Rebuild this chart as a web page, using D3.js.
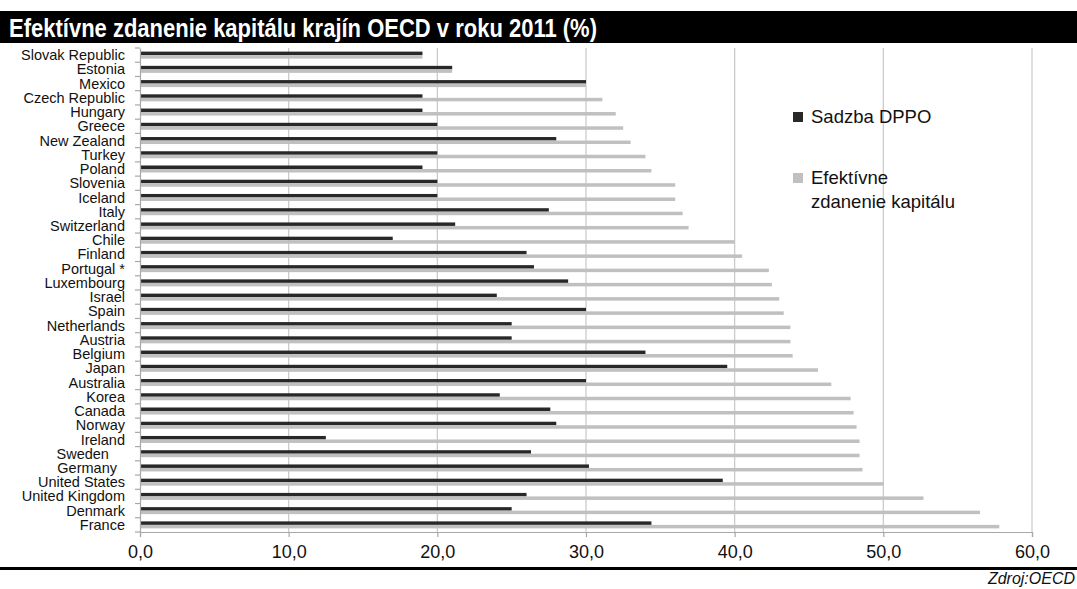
<!DOCTYPE html>
<html>
<head>
<meta charset="utf-8">
<script src="https://cdn.jsdelivr.net/npm/d3@7"></script>
<style>
  html, body { margin: 0; padding: 0; background: #fff; }
  svg { display: block; }
  .narrow { font-family: "Liberation Sans Narrow", "Arial Narrow", "Liberation Sans", Arial, sans-serif; }
  .sans { font-family: "Liberation Sans", Arial, sans-serif; }
</style>
</head>
<body>
<svg id="chart" width="1077" height="589"></svg>
<script>
// Countries, top to bottom
const countries = ["Slovak Republic", "Estonia", "Mexico", "Czech Republic", "Hungary", "Greece",
  "New Zealand", "Turkey", "Poland", "Slovenia", "Iceland", "Italy", "Switzerland", "Chile",
  "Finland", "Portugal *", "Luxembourg", "Israel", "Spain", "Netherlands", "Austria", "Belgium",
  "Japan", "Australia", "Korea", "Canada", "Norway", "Ireland", "Sweden    ", "Germany  ",
  "United States", "United Kingdom", "Denmark", "France"];

// Statutory corporate income tax rate (Sadzba DPPO), %
const sadzbaDPPO = [19, 21, 30, 19, 19, 20, 28, 20, 19, 20, 20, 27.5, 21.2, 17,
  26, 26.5, 28.8, 24, 30, 25, 25, 34,
  39.5, 30, 24.2, 27.6, 28, 12.5, 26.3, 30.2,
  39.2, 26, 25, 34.4];

// Effective taxation of capital, %
const efektivne = [19, 21, 30, 31.1, 32, 32.5, 33, 34, 34.4, 36, 36, 36.5, 36.9, 40,
  40.5, 42.3, 42.5, 43, 43.3, 43.75, 43.75, 43.9,
  45.6, 46.5, 47.8, 48, 48.2, 48.4, 48.4, 48.6,
  50, 52.7, 56.5, 57.8];

const xTicks = [0, 10, 20, 30, 40, 50, 60];
const seriesNames = ["Sadzba DPPO", "Efektívne zdanenie kapitálu"];
const seriesColors = ["#282828", "#c0c0c0"];

const svg = d3.select("#chart");
const W = 1077;

// Title bar
svg.append("rect").attr("x", 0).attr("y", 11).attr("width", W).attr("height", 32).attr("fill", "#000");
svg.append("text").attr("class", "narrow")
  .attr("x", 9).attr("y", 37)
  .attr("fill", "#fff").attr("font-weight", "bold").attr("font-size", 26)
  .attr("textLength", 588).attr("lengthAdjust", "spacingAndGlyphs")
  .text("Efektívne zdanenie kapitálu krajín OECD v roku 2011 (%)");

// Scales
const x = d3.scaleLinear().domain([0, 60]).range([140, 1032]);
const y = d3.scaleBand().domain(countries).range([48, 532]).padding(0);
const sub = d3.scaleBand().domain([0, 1]).range([0, y.bandwidth()])
  .paddingInner(0).paddingOuter(1.03);

// Vertical gridlines
svg.append("g").selectAll("line").data(xTicks.slice(1)).join("line")
  .attr("x1", d => x(d)).attr("x2", d => x(d))
  .attr("y1", 48).attr("y2", 532)
  .attr("stroke", "#c8c8c8").attr("stroke-width", 1.2);

// Bars
const rows = countries.map((c, i) => ({ c, vals: [sadzbaDPPO[i], efektivne[i]] }));
const g = svg.append("g").selectAll("g").data(rows).join("g")
  .attr("transform", d => `translate(0,${y(d.c)})`);
g.selectAll("rect").data(d => d.vals.map((v, k) => ({ v, k }))).join("rect")
  .attr("x", x(0))
  .attr("y", d => sub(d.k))
  .attr("width", d => x(d.v) - x(0))
  .attr("height", sub.bandwidth())
  .attr("fill", d => seriesColors[d.k]);

// Left category axis
const yAxis = svg.append("g").attr("transform", `translate(${x(0)},0)`)
  .call(d3.axisLeft(y).tickSize(0).tickPadding(15));
yAxis.select(".domain").attr("stroke", "#a8a8a8").attr("stroke-width", 1.2);
yAxis.selectAll("text").attr("class", "sans").attr("font-size", 14.5)
  .attr("fill", "#111").style("white-space", "pre").attr("dy", "0.35em");
// category separator ticks
const bounds = countries.map(c => y(c)).concat([y.range()[1]]);
svg.append("g").selectAll("line").data(bounds).join("line")
  .attr("x1", x(0) - 5).attr("x2", x(0))
  .attr("y1", d => d).attr("y2", d => d)
  .attr("stroke", "#a8a8a8").attr("stroke-width", 1.2);

// Bottom value axis
const xAxis = svg.append("g").attr("transform", `translate(0,532)`)
  .call(d3.axisBottom(x).tickValues(xTicks).tickSize(5).tickPadding(8)
    .tickFormat(d => d3.format(".1f")(d).replace(".", ",")));
xAxis.select(".domain").attr("stroke", "#a8a8a8").attr("stroke-width", 1.2);
xAxis.selectAll(".tick line").attr("stroke", "#a8a8a8").attr("stroke-width", 1.2);
xAxis.selectAll("text").attr("class", "narrow").attr("font-size", 18).attr("fill", "#111");

// Legend
const legend = svg.append("g").attr("class", "sans").attr("font-size", 18.5).attr("fill", "#111");
legend.append("rect").attr("x", 793).attr("y", 112).attr("width", 10).attr("height", 10).attr("fill", seriesColors[0]);
legend.append("text").attr("x", 811).attr("y", 123).text(seriesNames[0]);
legend.append("rect").attr("x", 793).attr("y", 173).attr("width", 10).attr("height", 10).attr("fill", seriesColors[1]);
legend.append("text").attr("x", 811).attr("y", 184).text("Efektívne");
legend.append("text").attr("x", 811).attr("y", 208).text("zdanenie kapitálu");

// Footer rule and source
svg.append("rect").attr("x", 0).attr("y", 567).attr("width", W).attr("height", 3).attr("fill", "#000");
svg.append("text").attr("class", "narrow")
  .attr("x", 1075).attr("y", 584).attr("text-anchor", "end")
  .attr("font-size", 16).attr("font-style", "italic").attr("fill", "#111")
  .text("Zdroj:OECD");
</script>
</body>
</html>
